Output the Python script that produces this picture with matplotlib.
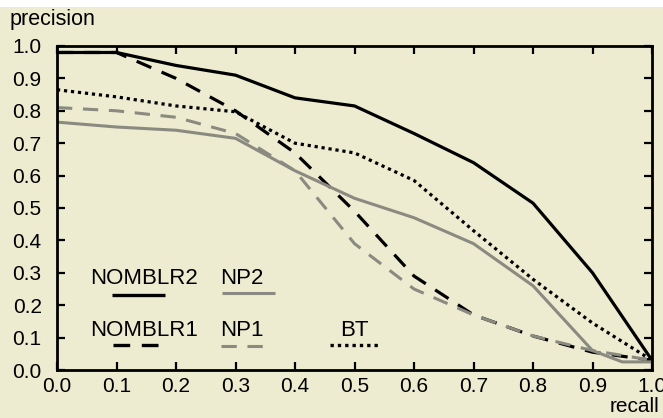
import matplotlib
matplotlib.use("Agg")
import matplotlib.pyplot as plt
from matplotlib.patches import Rectangle

recall = [0.0, 0.1, 0.2, 0.3, 0.4, 0.5, 0.6, 0.7, 0.8, 0.9, 1.0]
nomblr2 = [0.98, 0.98, 0.94, 0.91, 0.84, 0.815, 0.73, 0.64, 0.515, 0.30, 0.03]
nomblr1 = [0.98, 0.98, 0.90, 0.80, 0.67, 0.49, 0.29, 0.17, 0.105, 0.055, 0.03]
bt = [0.865, 0.843, 0.815, 0.797, 0.70, 0.67, 0.585, 0.43, 0.28, 0.145, 0.03]
np2_x = [0.0, 0.1, 0.2, 0.3, 0.4, 0.5, 0.6, 0.7, 0.8, 0.9, 0.95, 1.0]
np2 = [0.765, 0.75, 0.74, 0.715, 0.615, 0.53, 0.47, 0.39, 0.26, 0.06, 0.025, 0.025]
np1 = [0.81, 0.80, 0.78, 0.73, 0.615, 0.39, 0.25, 0.17, 0.105, 0.06, 0.03]
ticks = [0.0, 0.1, 0.2, 0.3, 0.4, 0.5, 0.6, 0.7, 0.8, 0.9, 1.0]

BG = "#edebd0"
GRAY = "#8a8a80"
plt.rcParams['font.family'] = ['Liberation Sans', 'DejaVu Sans']

W, H = 663, 418
fig = plt.figure(figsize=(W / 100, H / 100), dpi=100, facecolor=BG)
fig.patches.append(Rectangle((0, 1 - 7 / H), 1, 7 / H, transform=fig.transFigure,
                             facecolor="white", edgecolor="none", zorder=0))
ax = fig.add_axes([57 / W, 1 - 370 / H, (652 - 57) / W, (370 - 46) / H])
ax.set_facecolor(BG)

ax.plot(recall, nomblr2, color="black", lw=2.3, solid_capstyle="butt")
ax.plot(recall, nomblr1, color="black", lw=2.3, dashes=(5, 3.5), dash_capstyle="butt")
ax.plot(recall, bt, color="black", lw=2.3, dashes=(1, 1.2), dash_capstyle="butt")
ax.plot(np2_x, np2, color=GRAY, lw=2.2)
ax.plot(recall, np1, color=GRAY, lw=2.2, dashes=(5, 3.5), dash_capstyle="butt")

ax.set_xlim(0, 1)
ax.set_ylim(0, 1)
ax.set_xticks(ticks)
ax.set_yticks(ticks)
ax.set_xticklabels([f"{t:.1f}" for t in ticks])
ax.set_yticklabels([f"{t:.1f}" for t in ticks])
ax.tick_params(direction="in", length=6, width=1.6, labelsize=15, top=True, right=True,
               colors="black")
ax.tick_params(axis="x", pad=5)
ax.tick_params(axis="y", pad=11)
for s in ax.spines.values():
    s.set_linewidth(2)

# legend-like labels inside the axes
def data_xy(px, py):
    return ((px - 57) / (652 - 57), (370 - py) / (370 - 46))

items = [
    ("NOMBLR2", 90, 279, 112, 165, 295, dict(color="black", lw=2.4)),
    ("NP2", 220, 279, 222, 275, 293, dict(color=GRAY, lw=2.2)),
    ("NOMBLR1", 90, 330, 113, 158, 345, dict(color="black", lw=2.4, dashes=(5, 3.5))),
    ("NP1", 220, 330, 221, 266, 346, dict(color=GRAY, lw=2.2, dashes=(5, 3.5))),
    ("BT", 340, 330, 330, 378, 345, dict(color="black", lw=2.4, dashes=(1, 1.2))),
]
for label, tx, ty, x0, x1, ly, style in items:
    a = data_xy(tx, ty)
    ax.text(a[0], a[1], label, fontsize=16, va="center", ha="left", transform=ax.transAxes)
    p0 = data_xy(x0, ly)
    p1 = data_xy(x1, ly)
    ax.plot([p0[0], p1[0]], [p0[1], p1[1]], transform=ax.transAxes, solid_capstyle="butt",
            dash_capstyle="butt", **style)

fig.text(10 / W, 1 - 19 / H, "precision", fontsize=15.5, va="center", ha="left")
fig.text(659 / W, 1 - 406 / H, "recall", fontsize=15, va="center", ha="right")

fig.savefig("out.png", dpi=100, facecolor=BG)
